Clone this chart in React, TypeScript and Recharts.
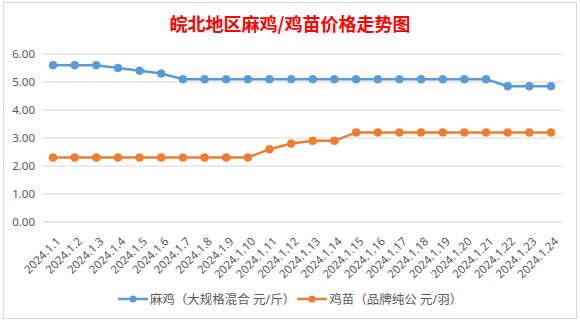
import React from "react";
import { LineChart, Line, XAxis, YAxis, CartesianGrid, Legend } from "recharts";

const dates = [
  "2024.1.1", "2024.1.2", "2024.1.3", "2024.1.4", "2024.1.5", "2024.1.6",
  "2024.1.7", "2024.1.8", "2024.1.9", "2024.1.10", "2024.1.11", "2024.1.12",
  "2024.1.13", "2024.1.14", "2024.1.15", "2024.1.16", "2024.1.17", "2024.1.18",
  "2024.1.19", "2024.1.20", "2024.1.21", "2024.1.22", "2024.1.23", "2024.1.24",
];
const majiPrices = [
  5.6, 5.6, 5.6, 5.5, 5.4, 5.3,
  5.1, 5.1, 5.1, 5.1, 5.1, 5.1,
  5.1, 5.1, 5.1, 5.1, 5.1, 5.1,
  5.1, 5.1, 5.1, 4.85, 4.85, 4.85,
];
const jimiaoPrices = [
  2.3, 2.3, 2.3, 2.3, 2.3, 2.3,
  2.3, 2.3, 2.3, 2.3, 2.6, 2.8,
  2.9, 2.9, 3.2, 3.2, 3.2, 3.2,
  3.2, 3.2, 3.2, 3.2, 3.2, 3.2,
];
const yTicks = [0, 1, 2, 3, 4, 5, 6];
const seriesNames = ["麻鸡（大规格混合 元/斤）", "鸡苗（品牌纯公 元/羽）"];
const title = "皖北地区麻鸡/鸡苗价格走势图";

const data = dates.map((d, i) => ({ date: d, maji: majiPrices[i], jimiao: jimiaoPrices[i] }));

const BLUE = "#5B9BD5";
const ORANGE = "#ED7D31";
const TXT = "#595959";
const FONT = "'Noto Sans', 'Noto Sans CJK SC', sans-serif";

const XTick = (props: any) => {
  const { x, y, payload } = props;
  return (
    <g transform={`translate(${x + 5},${y + 9})`}>
      <text
        x={0}
        y={0}
        textAnchor="end"
        dominantBaseline="central"
        transform="rotate(-45)"
        fill={TXT}
        fontSize={11.5}
        fontFamily={FONT}
      >
        {payload.value}
      </text>
    </g>
  );
};

const LegendContent = () => {
  const items = [
    { name: seriesNames[0], color: BLUE },
    { name: seriesNames[1], color: ORANGE },
  ];
  return (
    <div style={{ display: "flex", justifyContent: "center", alignItems: "center", fontFamily: FONT, fontSize: 12.5, color: TXT }}>
      {items.map((it, i) => (
        <div key={i} style={{ display: "flex", alignItems: "center", marginRight: i === 0 ? 2 : 0 }}>
          <svg width={30} height={10} style={{ marginRight: 2 }}>
            <line x1={0} y1={5} x2={30} y2={5} stroke={it.color} strokeWidth={2.5} />
            <circle cx={15} cy={5} r={3.5} fill={it.color} />
          </svg>
          <span>{it.name}</span>
        </div>
      ))}
    </div>
  );
};

export default function App() {
  return (
    <div style={{ position: "fixed", left: 0, top: 0, width: 580, height: 321, background: "#fff", overflow: "hidden" }}>
      <div
        style={{
          position: "absolute",
          left: 3,
          top: 2,
          width: 572,
          height: 315,
          border: "1px solid #d9d9d9",
        }}
      />
      <div
        style={{
          position: "absolute",
          left: 0,
          top: 12,
          width: 580,
          textAlign: "center",
          color: "#FF0000",
          fontSize: 18,
          fontWeight: "bold",
          fontFamily: "'Noto Sans CJK SC', sans-serif",
          lineHeight: "22px",
        }}
      >
        {title}
      </div>
      <div style={{ position: "absolute", left: 0, top: 0 }}>
        <LineChart width={580} height={321} data={data} margin={{ top: 54, right: 18, left: 8, bottom: 20 }}>
          <CartesianGrid horizontal vertical={false} stroke="#d9d9d9" strokeWidth={1} />
          <XAxis
            dataKey="date"
            interval={0}
            tick={<XTick />}
            tickLine={false}
            axisLine={{ stroke: "#d9d9d9" }}
            height={60}
            padding={{ left: 10, right: 11 }}
          />
          <YAxis
            domain={[0, 6]}
            ticks={yTicks}
            tickFormatter={(v: number) => v.toFixed(2)}
            tick={{ fill: TXT, fontSize: 11.5, fontFamily: FONT }}
            tickLine={false}
            axisLine={false}
            width={35}
          />
          <Legend content={<LegendContent />} wrapperStyle={{ position: "absolute", top: 289, left: 0, width: 580 }} />
          <Line
            type="linear"
            dataKey="maji"
            stroke={BLUE}
            strokeWidth={2.5}
            dot={{ r: 4, fill: BLUE, stroke: BLUE, strokeWidth: 0.5 }}
            isAnimationActive={false}
          />
          <Line
            type="linear"
            dataKey="jimiao"
            stroke={ORANGE}
            strokeWidth={2.5}
            dot={{ r: 4, fill: ORANGE, stroke: ORANGE, strokeWidth: 0.5 }}
            isAnimationActive={false}
          />
        </LineChart>
      </div>
    </div>
  );
}
